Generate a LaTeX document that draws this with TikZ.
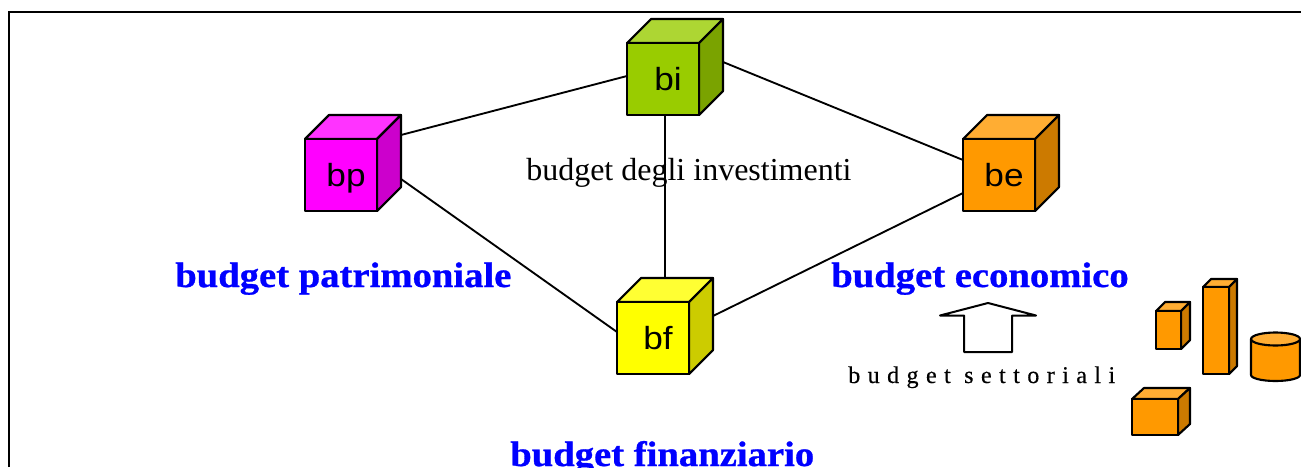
\documentclass[tikz,border=0pt]{standalone}
\usepackage{fontspec}
\setmainfont{Liberation Serif}
\newfontfamily\cubefont[FakeStretch=1.1]{Liberation Sans}
\newfontfamily\spacedfont[LetterSpace=31,FakeBold=0.4]{Liberation Serif}
\newfontfamily\titlefont[FakeStretch=1.09,FakeBold=0.8]{Liberation Serif}
\usetikzlibrary{calc}
\definecolor{budgetblue}{HTML}{0000FF}
\definecolor{bicol}{HTML}{99CC00}\definecolor{bitop}{HTML}{ADD633}\definecolor{biside}{HTML}{7AA300}
\definecolor{bpcol}{HTML}{FF00FF}\definecolor{bptop}{HTML}{FF33FF}\definecolor{bpside}{HTML}{CC00CC}
\definecolor{becol}{HTML}{FF9900}\definecolor{betop}{HTML}{FFAD33}\definecolor{beside}{HTML}{CC7A00}
\definecolor{bfcol}{HTML}{FFFF00}\definecolor{bftop}{HTML}{FFFF33}\definecolor{bfside}{HTML}{CCCC00}
\tikzset{
  edge/.style={line width=1.4pt},
  solid3d/.style={draw=black,line width=1.6pt,line join=round},
  title/.style={font=\titlefont\fontsize{26.6}{30}\selectfont\bfseries,text=budgetblue,anchor=base west,inner sep=0pt},
  caption/.style={font=\fontsize{24}{27}\selectfont,text=black,anchor=base west,inner sep=0pt},
  tag/.style={font=\cubefont\fontsize{24}{27}\selectfont,text=black,anchor=base,inner sep=0pt},
}
% \boxthree{name}{left}{top}{width}{height}{depth x}{depth y}{palette}{label}
\newcommand{\boxthree}[9]{%
  \path[solid3d,fill=#8top] (#2,#3) -- ++(#6,-#7) -- ++(#4,0) -- ++(-#6,#7) -- cycle;
  \path[solid3d,fill=#8side] (#2+#4,#3) -- ++(#6,-#7) -- ++(0,#5) -- ++(-#6,#7) -- cycle;
  \path[solid3d,fill=#8col] (#2,#3) rectangle ++(#4,#5);
  \node[tag] (#1) at ($(#2,#3)+0.5*(#4,#5)+(5,11)$) {#9};
}
\begin{document}
\begin{tikzpicture}[x=0.75pt,y=-0.75pt]
\useasboundingbox (0,0) rectangle (1301,467);

% sheet frame, open on the right and at the bottom
\draw[line width=1.6pt] (8.7,467) -- (8.7,12) -- (1301,12);

% anchors for the links, on the sides of the cubes
\coordinate (bpU) at (401,135);
\coordinate (bpD) at (401,179);
\coordinate (biL) at (627,76);
\coordinate (biR) at (723,62);
\coordinate (biB) at (665,115);
\coordinate (beU) at (963,160);
\coordinate (beD) at (963,193);
\coordinate (bfL) at (617,332);
\coordinate (bfR) at (713,316);
\coordinate (bfT) at (665,278);

\draw[edge] (bpU) -- (biL);
\draw[edge] (biR) -- (beU);
\draw[edge] (biB) -- (bfT);
\draw[edge] (bpD) -- (bfL);
\draw[edge] (bfR) -- (beD);

% the four budgets
\boxthree{bi}{627}{43}{72}{72}{24}{24}{bi}{bi}
\boxthree{bp}{305}{139}{72}{72}{24}{24}{bp}{bp}
\boxthree{be}{963}{139}{72}{72}{24}{24}{be}{be}
\boxthree{bf}{617}{302}{72}{72}{24}{24}{bf}{bf}

% sector budgets
\boxthree{s1}{1156}{311}{25}{38}{9}{9}{be}{}
\boxthree{s2}{1203}{287}{26}{87}{8}{8}{be}{}
\boxthree{s3}{1132}{399}{46}{36}{12}{11}{be}{}
\path[solid3d,fill=becol] (1251,339) -- (1251,375) arc[start angle=180,end angle=0,x radius=24.5,y radius=6] -- (1300,339) -- cycle;
\path[solid3d,fill=betop] (1275.5,339) ellipse[x radius=24.5,y radius=6.5];

% upward arrow
\draw[line width=1.5pt,line join=round,fill=white] (940,315.5) -- (988,303) -- (1036,315.5) -- (1012,315.5) -- (1012,352) -- (964,352) -- (964,315.5) -- cycle;

% labels
\node[caption] (inv) at (526,180) {budget degli investimenti};
\node[title] (pat) at (175,287) {budget patrimoniale};
\node[title] (eco) at (831,287) {budget economico};
\node[title] (fin) at (510,466) {budget finanziario};
\node[anchor=base west,inner sep=0pt,font=\spacedfont\fontsize{18}{21}\selectfont] (set) at (848,383) {budget settoriali};
\end{tikzpicture}
\end{document}
